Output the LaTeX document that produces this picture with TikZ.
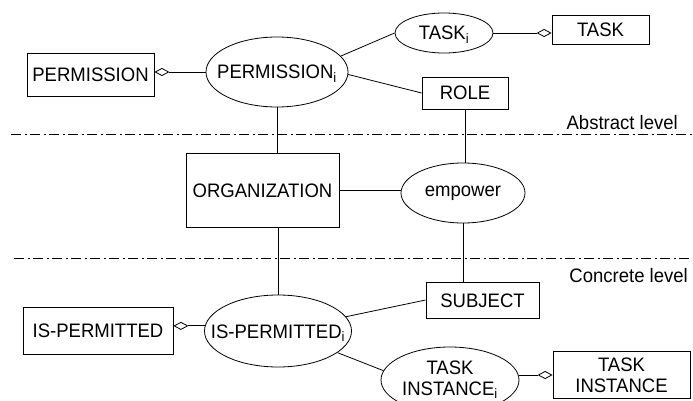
\documentclass[tikz,border=0pt]{standalone}
\usepackage{fontspec}
\setmainfont[FakeStretch=0.95]{Liberation Sans}
\usetikzlibrary{shapes.geometric,arrows.meta}
\begin{document}
\begin{tikzpicture}[x=1pt,y=-1pt,
  every node/.style={font=\fontsize{19.5}{21}\selectfont, inner sep=0pt},
  entity/.style={draw, rectangle, line width=0.8pt},
  % the ellipse size is fixed by minimum width/height, not by its text
  rel/.style={draw, ellipse, line width=0.8pt, inner xsep=-40pt, inner ysep=-5pt},
  oneline/.style={text height=14pt, text depth=0pt},
  link/.style={line width=0.8pt},
  agg/.style={line width=0.8pt, {Diamond[open,length=15pt,width=8pt]}-},
  levelline/.style={line width=0.8pt, dash pattern=on 10pt off 3.5pt on 2pt off 3.5pt}]
  \useasboundingbox (0,0) rectangle (693,401);
  \clip (0,0) rectangle (693,401);

  % abstract level
  \node[entity, oneline, minimum width=127pt, minimum height=43pt] (perm) at (90.5,75) {PERMISSION};
  \node[rel, oneline, minimum width=142pt, minimum height=70pt] (permi) at (277,72) {PERMISSION\textsubscript{i}};
  \node[rel, oneline, minimum width=98pt, minimum height=40pt] (taski) at (444,33) {TASK\textsubscript{i}};
  \node[entity, oneline, minimum width=97pt, minimum height=29pt] (task) at (600.5,30) {TASK};
  \node[entity, oneline, minimum width=86pt, minimum height=32pt] (role) at (465,93) {ROLE};

  % middle layer
  \node[entity, oneline, minimum width=153pt, minimum height=74pt] (org) at (262.5,190) {ORGANIZATION};
  \node[rel, minimum width=124pt, minimum height=60pt] (emp) at (463,193) {empower};

  % concrete level
  \node[entity, oneline, minimum width=113pt, minimum height=36pt] (subj) at (482.5,300) {SUBJECT};
  \node[entity, oneline, minimum width=150pt, minimum height=47pt] (isperm) at (98,330.5) {IS-PERMITTED};
  \node[rel, oneline, minimum width=147pt, minimum height=72pt] (ispermi) at (278,331) {IS-PERMITTED\textsubscript{i}};
  \node[rel, align=center, minimum width=138pt, minimum height=66pt] (tii) at (450,380) {TASK\\INSTANCE\textsubscript{i}};
  \node[entity, align=center, minimum width=137pt, minimum height=47pt] (ti) at (621.5,375) {TASK\\INSTANCE};

  % level labels and separators
  \node[anchor=base east] (abs) at (678,130) {Abstract level};
  \node[anchor=base east] (con) at (688,282) {Concrete level};
  \draw[levelline] (11,134) -- (693,134);
  \draw[levelline] (14,258) -- (693,258);

  % aggregation links
  \draw[agg] (perm.east |- permi.west) -- (permi.west);
  \draw[agg] (task.west |- taski.east) -- (taski.east);
  \draw[agg] (isperm.east |- ispermi.176) -- (ispermi.176);
  \draw[agg] (ti.west) -- (tii.east |- ti.west);

  % plain links
  \draw[link] (permi.14) -- (taski.west);
  \draw[link] (permi.-2.5) -- (role.west);
  \draw[link] (permi.south) -- (permi.south |- org.north);
  \draw[link] (role.south) -- (role.south |- emp.north);
  \draw[link] (org.east) -- (org.east -| emp.west);
  \draw[link] (emp.south) -- (emp.south |- subj.north);
  \draw[link] (org.south -| ispermi.north) -- (ispermi.north);
  \draw[link] (ispermi) -- (subj.west);
  \draw[link] (ispermi.-20) -- (tii.172);
\end{tikzpicture}
\end{document}
